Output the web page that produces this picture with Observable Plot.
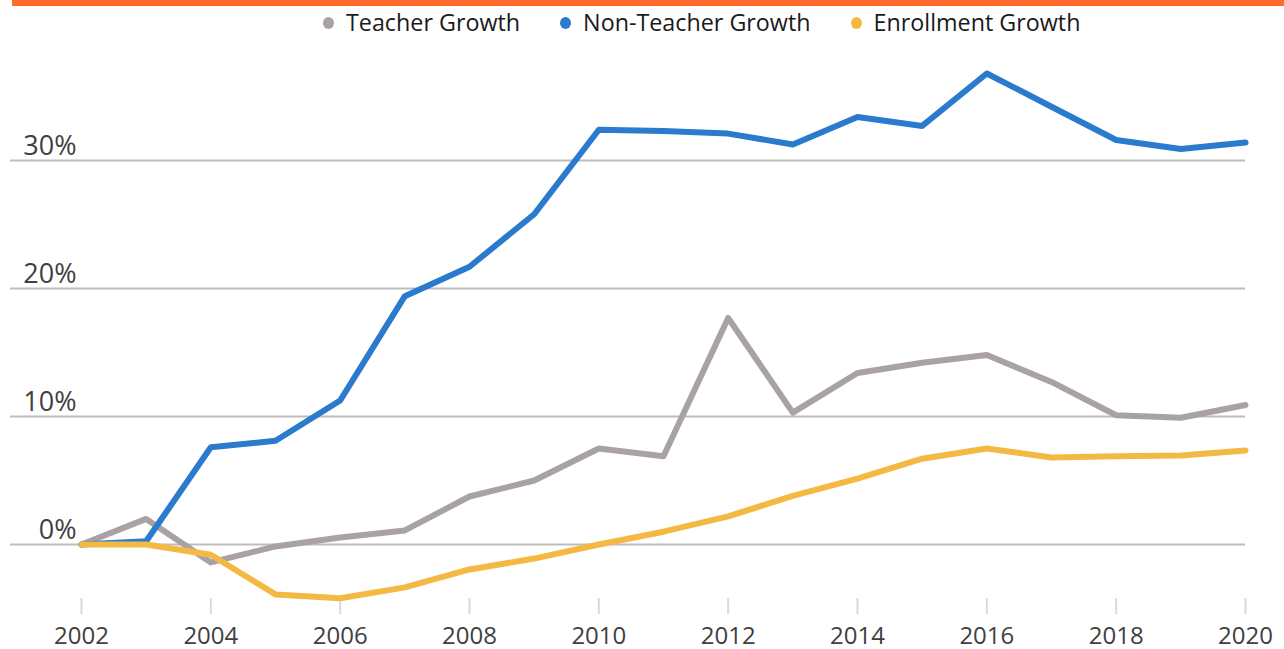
<!DOCTYPE html>
<html>
<head>
<meta charset="utf-8">
<script src="https://cdn.jsdelivr.net/npm/d3@7"></script>
<script src="https://cdn.jsdelivr.net/npm/@observablehq/plot@0.6"></script>
<style>
  html, body { margin: 0; padding: 0; background: #fff; }
  body { width: 1284px; height: 649px; position: relative; overflow: hidden;
         font-family: "Open Sans", sans-serif; color: #404040; }
  #bar { position: absolute; left: 12px; top: 0; width: 1272px; height: 6px; background: #ff6b2c; }
  #legend { position: absolute; left: 323px; top: 4px; height: 36px; display: flex; align-items: center;
            font-size: 23.3px; font-weight: 400; color: #1a1a1a; white-space: nowrap; }
  .item { display: flex; align-items: center; margin-right: 40px; }
  .dot { width: 11px; height: 12px; border-radius: 50%; margin-right: 12px; margin-top: 2px; }
  #chart { position: absolute; left: 0; top: 40px; }
</style>
</head>
<body>
<div id="bar"></div>
<div id="legend"></div>
<div id="chart"></div>
<script>
const years = [2002,2003,2004,2005,2006,2007,2008,2009,2010,2011,2012,2013,2014,2015,2016,2017,2018,2019,2020];
const teacher = [0,2.0,-1.4,-0.15,0.55,1.1,3.75,5.0,7.5,6.9,17.7,10.3,13.4,14.2,14.8,12.7,10.1,9.9,10.9];
const nonTeacher = [0,0.25,7.6,8.1,11.25,19.4,21.7,25.8,32.4,32.3,32.1,31.25,33.4,32.7,36.8,34.2,31.6,30.9,31.4];
const enrollment = [0,0,-0.8,-3.9,-4.2,-3.35,-1.95,-1.1,0,1.0,2.2,3.8,5.15,6.7,7.5,6.8,6.9,6.95,7.35];
const seriesNames = ["Teacher Growth","Non-Teacher Growth","Enrollment Growth"];
const seriesColors = ["#a8a2a4","#2a7acd","#f4b942"];
const yTicks = [0,10,20,30];
const xTicks = [2002,2004,2006,2008,2010,2012,2014,2016,2018,2020];

const seriesValues = [teacher, nonTeacher, enrollment];
const data = [];
seriesNames.forEach((name, i) => {
  years.forEach((yr, j) => data.push({series: name, year: yr, value: seriesValues[i][j]}));
});

// legend
const legend = document.getElementById("legend");
seriesNames.forEach((name, i) => {
  const item = document.createElement("div");
  item.className = "item";
  const dot = document.createElement("span");
  dot.className = "dot";
  dot.style.background = seriesColors[i];
  const label = document.createElement("span");
  label.textContent = name;
  item.appendChild(dot);
  item.appendChild(label);
  legend.appendChild(item);
});

const chart = Plot.plot({
  width: 1284,
  height: 609,
  marginLeft: 10,
  marginRight: 39,
  marginTop: 0,
  marginBottom: 51,
  style: { fontFamily: '"Open Sans", sans-serif', fontSize: "27px", fontWeight: 400, overflow: "visible", background: "transparent" },
  x: { domain: [2002, 2020], range: [81, 1245] },
  y: { domain: [0, 30], range: [504, 120], axis: null },
  color: { domain: seriesNames, range: seriesColors },
  marks: [
    Plot.ruleY(yTicks, { stroke: "#bdbdbd", strokeWidth: 2 }),
    Plot.text(yTicks, { y: d => d, text: d => d + "%", frameAnchor: "left", textAnchor: "end", dx: 66, dy: -14, fill: "#404040", fontSize: 27 }),
    Plot.axisX({ ticks: xTicks, tickFormat: d => String(d), tickSize: 16, tickPadding: 12, stroke: "#d9d9d9", strokeWidth: 2, color: "#404040", fontSize: 24, label: null }),
    Plot.lineY(data, { x: "year", y: "value", z: "series", stroke: "series", strokeWidth: 6, strokeLinejoin: "round", strokeLinecap: "round" })
  ]
});
document.getElementById("chart").appendChild(chart);
</script>
</body>
</html>
